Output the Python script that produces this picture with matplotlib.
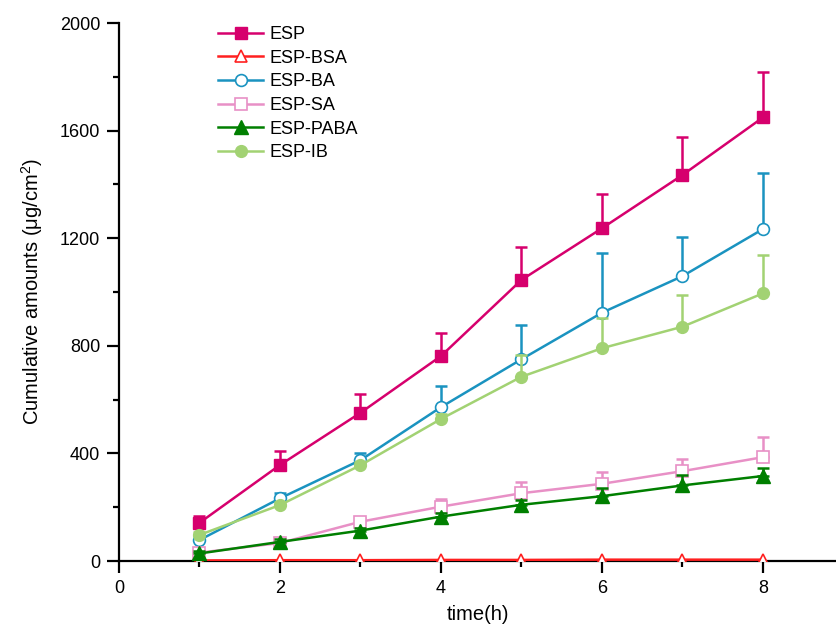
import matplotlib
matplotlib.use("Agg")
import matplotlib.pyplot as plt
import numpy as np

plt.rcParams['font.family'] = ['Liberation Sans', 'DejaVu Sans']
plt.rcParams['mathtext.fontset'] = 'custom'
plt.rcParams['mathtext.rm'] = 'Liberation Sans'
plt.rcParams['mathtext.it'] = 'Liberation Sans:italic'

time_h = [1, 2, 3, 4, 5, 6, 7, 8]
labels = ["ESP", "ESP-BSA", "ESP-BA", "ESP-SA", "ESP-PABA", "ESP-IB"]

esp = [142, 357, 551, 762, 1045, 1237, 1435, 1649]
esp_bsa = [2, 3, 3, 4, 4, 5, 5, 5]
esp_ba = [78, 233, 375, 572, 750, 923, 1059, 1234]
esp_sa = [31, 67, 146, 202, 252, 287, 334, 386]
esp_paba = [28, 71, 113, 165, 209, 241, 281, 316]
esp_ib = [97, 208, 356, 528, 685, 791, 871, 995]

err_esp = [26, 53, 70, 87, 121, 126, 140, 170]
err_bsa = [0, 0, 0, 0, 0, 0, 0, 0]
err_ba = [20, 20, 28, 80, 126, 221, 147, 207]
err_sa = [10, 12, 15, 29, 42, 42, 47, 76]
err_paba = [8, 10, 10, 12, 16, 30, 38, 30]
err_ib = [10, 10, 12, 20, 81, 111, 118, 143]

series = [esp, esp_bsa, esp_ba, esp_sa, esp_paba, esp_ib]
errors = [err_esp, err_bsa, err_ba, err_sa, err_paba, err_ib]
colors = ["#D6006D", "#FF2020", "#1A93C0", "#E890C6", "#007F00", "#A2D273"]
markers = ["s", "^", "o", "s", "^", "o"]
filled = [True, False, False, False, True, True]
msizes = [8, 8.5, 8.5, 8, 10, 8.5]

fig = plt.figure(figsize=(8.37, 6.26), dpi=100)
ax = fig.add_axes([119/837, 65/626, 1 - 119/837, (561-23)/626])

for i, (vals, err) in enumerate(zip(series, errors)):
    c = colors[i]
    z = 2 + i
    if any(e > 0 for e in err):
        ax.errorbar(time_h, vals, yerr=[np.zeros(len(err)), err], fmt='none',
                    ecolor=c, elinewidth=1.8, capsize=4.5, capthick=1.8, zorder=z)
    ax.plot(time_h, vals, color=c, lw=1.8, marker=markers[i], ms=msizes[i],
            mfc=c if filled[i] else 'white', mec=c, mew=1.2 if not filled[i] else 1.0,
            label=labels[i], zorder=z + 0.5)

ax.set_xlim(0, (837-119)/80.5)
ax.set_ylim(0, 2000)
ax.set_xticks([0, 2, 4, 6, 8])
ax.set_xticks([1, 3, 5, 7], minor=True)
ax.set_yticks([0, 400, 800, 1200, 1600, 2000])
ax.set_yticks([200, 600, 1000, 1400, 1800], minor=True)

for s in ['top', 'right']:
    ax.spines[s].set_visible(False)
for s in ['left', 'bottom']:
    ax.spines[s].set_linewidth(1.6)
    ax.spines[s].set_color('black')

ax.tick_params(which='major', direction='out', length=8.5, width=1.6, labelsize=13, pad=5)
ax.tick_params(which='minor', direction='out', length=4.5, width=1.6)

ax.set_xlabel("time(h)", fontsize=14.5, labelpad=6)
ax.set_ylabel("Cumulative amounts (μg/cm$^{2}$)", fontsize=14.5, labelpad=11)

leg = ax.legend(loc='upper left', bbox_to_anchor=(218/837, 1 - 26/626),
                bbox_transform=fig.transFigure, frameon=False, fontsize=13,
                borderpad=0, borderaxespad=0, handlelength=2.5, handletextpad=0.35,
                labelspacing=0.37, numpoints=1)

fig.savefig("out.png", dpi=100)
